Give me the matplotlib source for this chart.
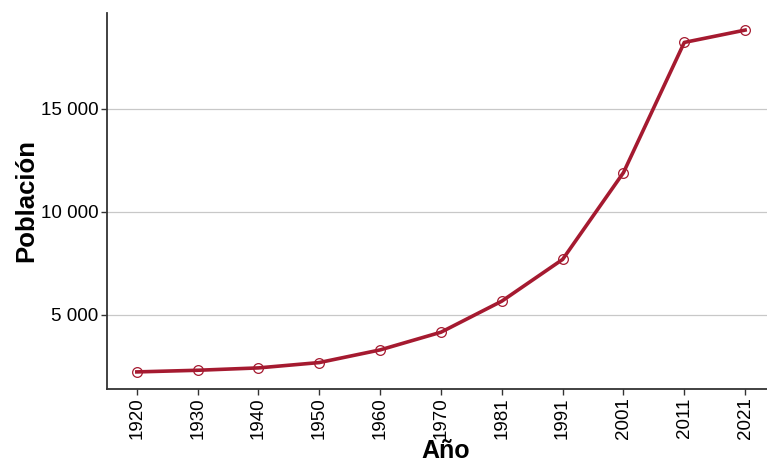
import matplotlib
matplotlib.use("Agg")
from matplotlib import pyplot as plt
from matplotlib.ticker import FuncFormatter

years = ["1920", "1930", "1940", "1950", "1960", "1970", "1981", "1991", "2001", "2011", "2021"]
poblacion = [2210, 2290, 2405, 2665, 3280, 4140, 5650, 7680, 11900, 18230, 18830]

plt.rcParams['font.family'] = ['Liberation Sans', 'DejaVu Sans']
color = '#A51A30'

fig = plt.figure(figsize=(7.67, 4.62), dpi=100)
ax = fig.add_axes([107/767, 1 - 389/462, 1 - 107/767, (389 - 13)/462])

x = list(range(len(years)))
ax.plot(x, poblacion, color=color, linewidth=2.6, zorder=3)
ax.plot(x, poblacion, linestyle='none', marker='o', markersize=7,
        markerfacecolor='none', markeredgecolor=color, markeredgewidth=0.9, zorder=4)

rng = max(poblacion) - min(poblacion)
ax.set_ylim(min(poblacion) - 0.05*rng, max(poblacion) + 0.05*rng)
ax.set_xlim(-0.49, 10.36)

ax.set_xticks(x)
ax.set_xticklabels(years, rotation=90)
ax.set_yticks([5000, 10000, 15000])
ax.yaxis.set_major_formatter(FuncFormatter(lambda v, p: f"{int(v):,}".replace(",", " ")))
ax.grid(axis='y', color='#c8c8c8', linewidth=0.9)
ax.set_axisbelow(True)

for s in ['top', 'right']:
    ax.spines[s].set_visible(False)
for s in ['left', 'bottom']:
    ax.spines[s].set_color('#333333')
    ax.spines[s].set_linewidth(1.3)
ax.tick_params(axis='both', labelsize=13.5, length=4, width=1, color='#333333', labelcolor='black')
ax.tick_params(axis='x', pad=2)
ax.tick_params(axis='y', pad=2)

# x label sits under the rotated years
fig.text(446/767, 4.5/462, "Año", fontsize=18, fontweight='bold', ha='center', va='baseline')
ax.set_ylabel("Población", fontsize=18.5, fontweight='bold', labelpad=2)

fig.savefig("out.png", dpi=100)
